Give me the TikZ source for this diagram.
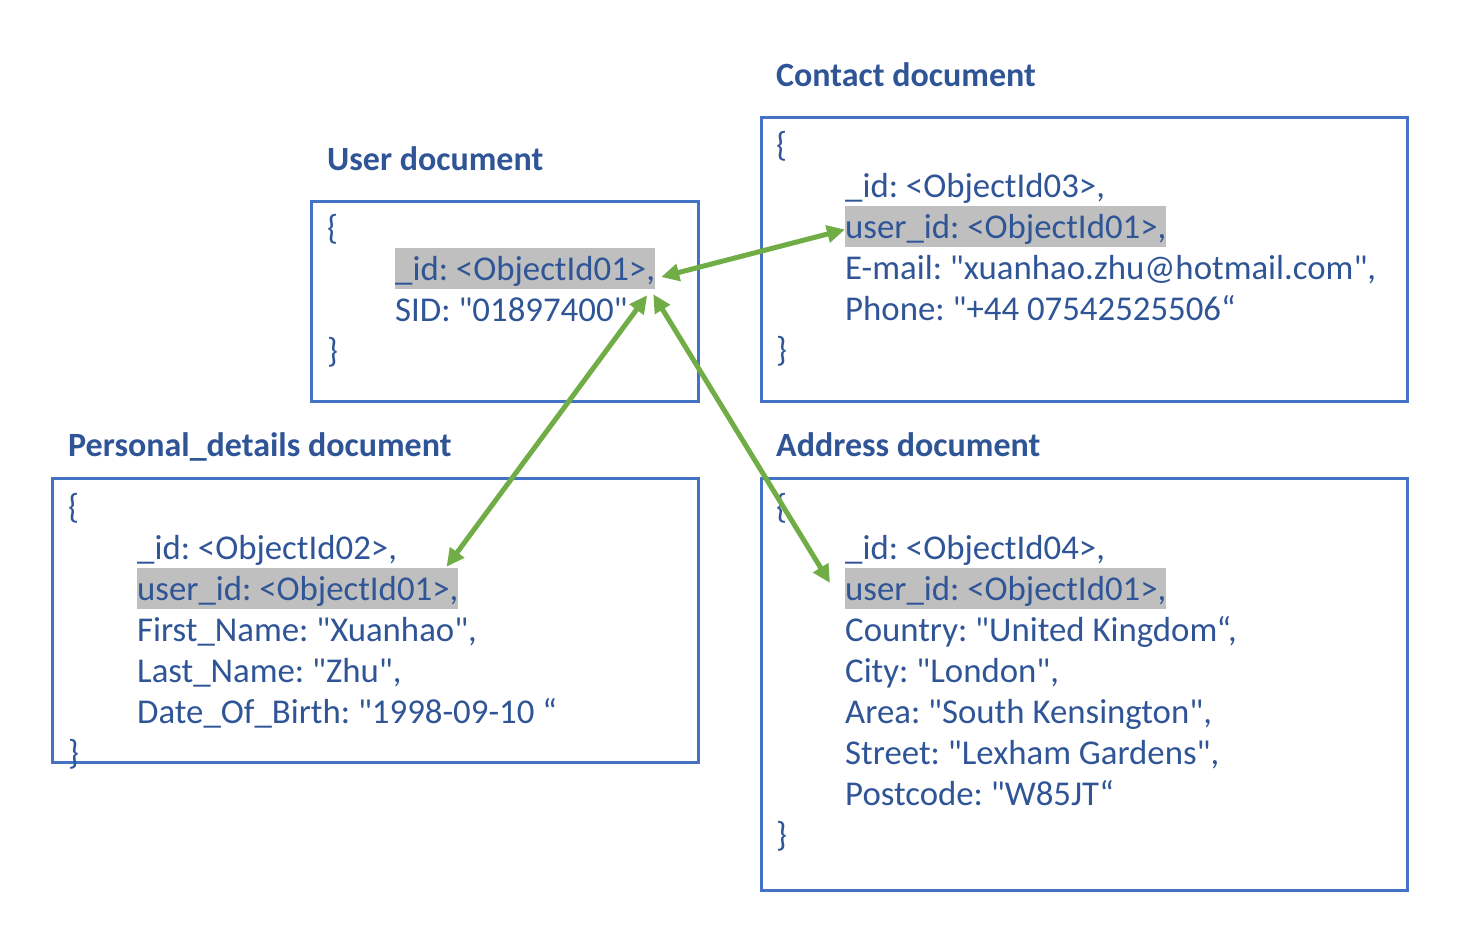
\documentclass[tikz,border=0pt]{standalone}
\usepackage{fontspec}
\setmainfont{Carlito}[Ligatures=TeXOff]
\usepackage{tikz}
\usetikzlibrary{arrows.meta}
\usetikzlibrary{positioning}

\definecolor{docblue}{HTML}{2F5597}
\definecolor{boxblue}{HTML}{4472C4}
\definecolor{hlgray}{HTML}{BFBFBF}
\definecolor{linkgreen}{HTML}{70AD47}
\frenchspacing

\begin{document}
\begin{tikzpicture}[
    x=1pt, y=-1pt,
    docbox/.style={draw=boxblue, line width=3pt},
    doctitle/.style={anchor=base west, inner sep=0pt, text=docblue, font=\fontsize{34}{41}\selectfont\bfseries},
    field/.style={anchor=base west, inner sep=0pt, text=docblue, font=\fontsize{34.8}{41}\selectfont, text height=32pt, text depth=9pt},
    idfield/.style={field, fill=hlgray},
    link/.style={draw=linkgreen, line width=5pt, {Triangle[length=18pt,width=17pt]}-{Triangle[length=18pt,width=17pt]}}
]
    \useasboundingbox (0,0) rectangle (1477,946);

    % Boxes
    \draw[docbox] (311,201) rectangle (698,401);
    \draw[docbox] (761,117) rectangle (1407,401);
    \draw[docbox] (52,478) rectangle (698,762);
    \draw[docbox] (761,478) rectangle (1407,890);

    % User document
    \node[doctitle] (usert) at (327,170) {User document};
    \node[field] (uopen) at (327,239) {\{};
    \node[idfield] (uid) at (395,280) {\_id: <ObjectId01>,};
    \node[field] (usid) at (395,321) {SID: "01897400"};
    \node[field] (uclose) at (327,362) {\}};

    % Contact document
    \node[doctitle] (contt) at (776,86) {Contact document};
    \node[field] (copen) at (776,156) {\{};
    \node[field] (cid) at (845,197) {\_id: <ObjectId03>,};
    \node[idfield] (cuid) at (845,238) {user\_id: <ObjectId01>,};
    \node[field] (cmail) at (845,279) {E-mail: "xuanhao.zhu@hotmail.com",};
    \node[field] (cphone) at (845,320) {Phone: "+44 07542525506“};
    \node[field] (cclose) at (776,361) {\}};

    % Personal_details document
    \node[doctitle] (perst) at (68,456) {Personal\_details document};
    \node[field] (popen) at (68,518) {\{};
    \node[field] (pid) at (137,559) {\_id: <ObjectId02>,};
    \node[idfield] (puid) at (137,600) {user\_id: <ObjectId01>,};
    \node[field] (pfirst) at (137,641) {First\_Name: "Xuanhao",};
    \node[field] (plast) at (137,682) {Last\_Name: "Zhu",};
    \node[field] (pbirth) at (137,723) {Date\_Of\_Birth: "1998-09-10 “};
    \node[field] (pclose) at (68,764) {\}};

    % Address document
    \node[doctitle] (addrt) at (776,456) {Address document};
    \node[field] (aopen) at (776,518) {\{};
    \node[field] (aid) at (845,559) {\_id: <ObjectId04>,};
    \node[idfield] (auid) at (845,600) {user\_id: <ObjectId01>,};
    \node[field] (acountry) at (845,641) {Country: "United Kingdom“,};
    \node[field] (acity) at (845,682) {City: "London",};
    \node[field] (aarea) at (845,723) {Area: "South Kensington",};
    \node[field] (astreet) at (845,764) {Street: "Lexham Gardens",};
    \node[field] (apost) at (845,805) {Postcode: "W85JT“};
    \node[field] (aclose) at (776,846) {\}};

    % Links to the user _id
    \draw[link] ([yshift=-3pt]cuid.west) -- ([xshift=6pt,yshift=-8.5pt]uid.east);
    \draw[link] ([xshift=-8pt,yshift=-6pt]uid.south east) -- ([xshift=-12pt,yshift=1pt]puid.north east);
    \draw[link] ([xshift=-2pt,yshift=-5pt]uid.south east) -- ([xshift=-15pt,yshift=5.5pt]auid.west);

\end{tikzpicture}
\end{document}
